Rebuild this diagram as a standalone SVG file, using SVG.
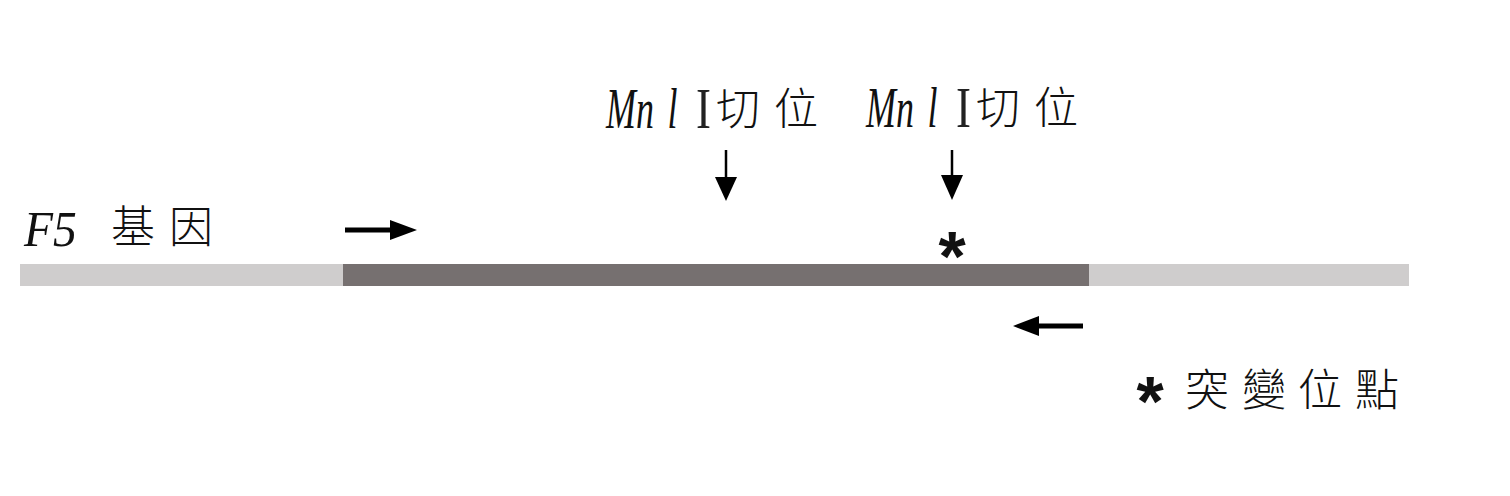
<svg xmlns="http://www.w3.org/2000/svg" width="1510" height="496" viewBox="0 0 1510 496">
<style>
.lat{font-family:"Liberation Serif",serif;font-style:italic;fill:#111}
.rom{font-family:"Liberation Serif",serif;fill:#222}
.ast{font-family:"Liberation Sans",sans-serif;font-weight:bold;fill:#111;text-anchor:middle}
.cjk{font-family:"Liberation Serif","Noto Sans CJK TC",serif;fill:#111;font-weight:300}
.ar{stroke:#000;stroke-width:5;fill:none}
.ad{stroke:#000;stroke-width:2.5;fill:none}
</style>
<rect width="1510" height="496" fill="#fff"/>
<g id="gene">
<rect x="20" y="264" width="1389" height="22" fill="#cfcdcd"/>
<rect x="343" y="264" width="746" height="22" fill="#767070"/>
</g>
<g id="label-f5">
<text class="lat" transform="translate(24,246) scale(0.95,1)" font-size="50">F5</text>
<text class="cjk" y="243" font-size="44"><tspan x="111">基</tspan><tspan x="169">因</tspan></text>
</g>
<g id="label-mnl1">
<text class="lat" transform="translate(606,128) scale(0.62,1)" font-size="58">Mn<tspan dx="22">l</tspan></text>
<text class="rom" transform="translate(696,128) scale(0.8,1)" font-size="56">I</text>
<text class="cjk" y="125" font-size="44"><tspan x="716">切</tspan><tspan x="774">位</tspan></text>
</g>
<g id="label-mnl2">
<text class="lat" transform="translate(866,127) scale(0.62,1)" font-size="58">Mn<tspan dx="22">l</tspan></text>
<text class="rom" transform="translate(956,127) scale(0.8,1)" font-size="56">I</text>
<text class="cjk" y="124" font-size="44"><tspan x="976">切</tspan><tspan x="1034">位</tspan></text>
</g>
<g id="mutation">
<text class="ast" x="952" y="281" font-size="70">*</text>
</g>
<g id="legend">
<text class="ast" x="1150" y="426" font-size="70">*</text>
<text class="cjk" y="406" font-size="44"><tspan x="1185">突</tspan><tspan x="1242">變</tspan><tspan x="1298">位</tspan><tspan x="1355">點</tspan></text>
</g>
<g id="connectors">
<line class="ar" x1="345" y1="230" x2="392" y2="230"/>
<polygon points="390,220 417,230 390,240" fill="#000"/>
<line class="ar" x1="1083" y1="326" x2="1036" y2="326"/>
<polygon points="1039,316 1013,326 1039,336" fill="#000"/>
<line class="ad" x1="726" y1="150" x2="726" y2="180"/>
<polygon points="715,177 737,177 726,201" fill="#000"/>
<line class="ad" x1="952" y1="150" x2="952" y2="178"/>
<polygon points="941,175 963,175 952,200" fill="#000"/>
</g>
</svg>
